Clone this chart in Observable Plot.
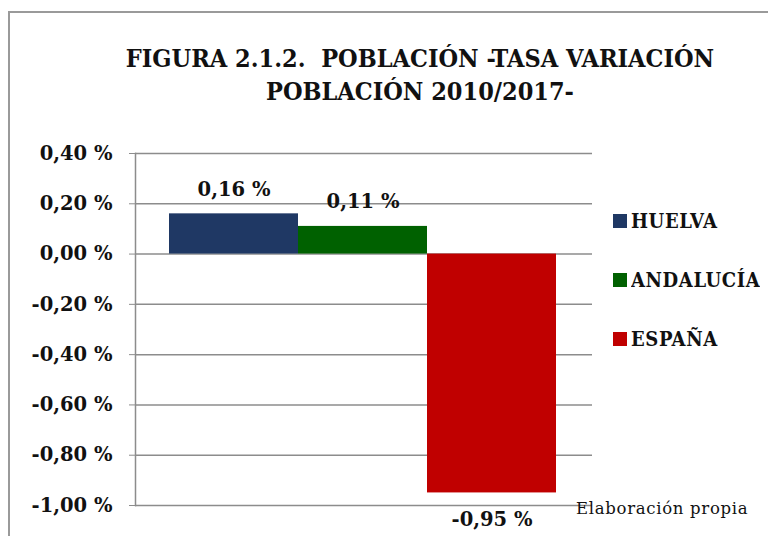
<!DOCTYPE html>
<html>
<head>
<meta charset="utf-8">
<script src="https://cdn.jsdelivr.net/npm/d3@7"></script>
<script src="https://cdn.jsdelivr.net/npm/@observablehq/plot@0.6"></script>
<style>
  html, body { margin: 0; padding: 0; background: #fff; }
  #wrap { position: relative; width: 768px; height: 536px; overflow: hidden; font-family: "DejaVu Serif", serif; color: #111; }
  #border { position: absolute; left: 8px; top: 11px; width: 800px; height: 600px; border-left: 2px solid #9a9a9a; border-top: 2px solid #9a9a9a; }
  #title { position: absolute; left: 60px; width: 720px; top: 42px; text-align: center; font-family: "DejaVu Serif Condensed", "DejaVu Serif", serif; font-weight: bold; font-size: 25px; line-height: 33px; color: #111; }
  #chart { position: absolute; left: 0; top: 0; }
  #legend { position: absolute; left: 613px; top: 209px; }
  #legend .lg-swatch { margin-bottom: 34px; font-size: 20px; font-weight: bold; letter-spacing: 0.6px; font-family: "DejaVu Serif Condensed", "DejaVu Serif", serif; color: #111; }
  #legend .lg-swatch svg { margin-right: 4px !important; }
  #note { position: absolute; left: 576px; top: 499px; font-size: 16.5px; letter-spacing: 0.7px; font-family: "DejaVu Serif", serif; color: #111; }
</style>
</head>
<body>
<div id="wrap">
  <div id="border"></div>
  <div id="title">FIGURA 2.1.2.&nbsp; POBLACIÓN -TASA VARIACIÓN<br>POBLACIÓN 2010/2017-</div>
  <div id="chart"></div>
  <div id="legend"></div>
  <div id="note">Elaboración propia</div>
</div>
<script>
const categories = ["HUELVA", "ANDALUCÍA", "ESPAÑA"];
const values = [0.16, 0.11, -0.95];
const colors = ["#1f3864", "#006100", "#c00000"];
const yTicks = [0.4, 0.2, 0, -0.2, -0.4, -0.6, -0.8, -1.0];

const data = categories.map((c, i) => ({cat: c, v: values[i]}));
const fmt = v => v.toFixed(2).replace(".", ",") + " %";

const chart = Plot.plot({
  width: 768,
  height: 536,
  marginTop: 153,
  marginBottom: 31,
  marginLeft: 135,
  marginRight: 176,
  style: {fontFamily: "DejaVu Serif, serif", color: "#111", background: "transparent", overflow: "visible"},
  x: {domain: categories, padding: 0, insetLeft: 33, insetRight: 35, axis: null},
  y: {domain: [-1, 0.4], ticks: yTicks, tickFormat: fmt, label: null},
  color: {domain: categories, range: colors},
  marks: [
    Plot.ruleY(yTicks, {stroke: "#8c8c8c", strokeWidth: 1.5}),
    Plot.barY(data, {x: "cat", y: "v", fill: "cat"}),
    Plot.frame({anchor: "left", stroke: "#8c8c8c", strokeWidth: 1.5}),
    Plot.axisY({ticks: yTicks, tickFormat: fmt, tickSize: 6, tickPadding: 17, stroke: "#8c8c8c", fontSize: 19.5, fontWeight: "bold", label: null}),
    Plot.text(data.filter(d => d.v >= 0), {x: "cat", y: "v", text: d => fmt(d.v), lineAnchor: "bottom", dy: -18, fontSize: 19.5, fontWeight: "bold", fill: "#111"}),
    Plot.text(data.filter(d => d.v < 0), {x: "cat", y: "v", text: d => fmt(d.v), lineAnchor: "top", dy: 19, fontSize: 19.5, fontWeight: "bold", fill: "#111"})
  ]
});
document.getElementById("chart").appendChild(chart);

const legend = Plot.legend({
  color: {type: "ordinal", domain: categories, range: colors},
  legend: "swatches",
  columns: 1,
  swatchSize: 14,
  className: "lg",
  style: {fontFamily: "DejaVu Serif, serif", fontSize: "20px", color: "#111"}
});
document.getElementById("legend").appendChild(legend);
</script>
</body>
</html>
